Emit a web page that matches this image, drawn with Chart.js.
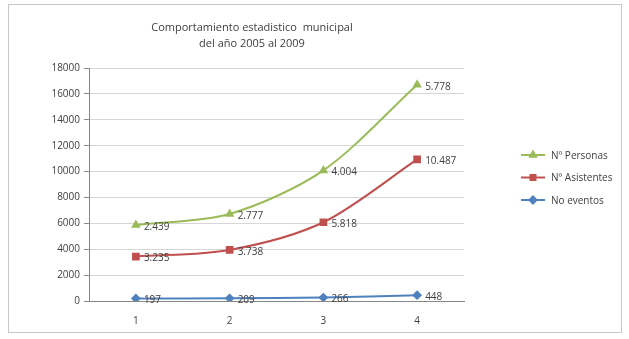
<!DOCTYPE html>
<html>
<head>
<meta charset="utf-8">
<script src="https://cdn.jsdelivr.net/npm/chart.js@4/dist/chart.umd.min.js"></script>
<style>
  html, body { margin: 0; padding: 0; background: #fff; }
  #wrap { width: 629px; height: 339px; position: relative; }
</style>
</head>
<body>
<div id="wrap"><canvas id="grafico" width="629" height="339"></canvas></div>
<script>
// Años 2005 a 2009 (categorías 1..4)
const categorias = ['1', '2', '3', '4'];
const noEventos = [197, 209, 266, 448];
const asistentes = [3235, 3738, 5818, 10487];
const personas = [2439, 2777, 4004, 5778];
const titulo = ['Comportamiento estadistico  municipal', 'del año 2005 al 2009'];

const verde = '#9bbb59', rojo = '#c0504d', azul = '#4f81bd';

// leyenda en el orden de arriba hacia abajo
const leyenda = [
    { text: 'Nº Personas', color: verde, style: 'triangle' },
    { text: 'Nº Asistentes', color: rojo, style: 'rect' },
    { text: 'No eventos', color: azul, style: 'rectRot' }
];

const fuente = '"Open Sans", "Liberation Sans", sans-serif';

// miles con punto: 10487 -> 10.487
const conPunto = v => String(v).replace(/\B(?=(\d{3})+(?!\d))/g, '.');

const marco = {
    id: 'marco',
    beforeDraw(chart) {
        const c = chart.ctx;
        c.save();
        c.fillStyle = '#fff';
        c.fillRect(0, 0, chart.width, chart.height);
        c.strokeStyle = '#c8c8c8';
        c.lineWidth = 1;
        c.strokeRect(8.5, 4.5, 613, 328);
        c.restore();
    },
    afterDraw(chart) {
        const c = chart.ctx;
        c.save();
        // título
        c.fillStyle = '#404040';
        c.font = '11px ' + fuente;
        c.textAlign = 'center';
        c.textBaseline = 'middle';
        c.fillText(titulo[0], 252, 28);
        c.fillText(titulo[1], 252, 44);

        // etiquetas de datos con el valor propio de cada serie
        c.font = '10px ' + fuente;
        c.textAlign = 'left';
        c.fillStyle = '#404040';
        chart.data.datasets.forEach((ds, i) => {
            chart.getDatasetMeta(i).data.forEach((pt, j) => {
                c.fillText(conPunto(ds.data[j]), pt.x + 8, pt.y + 2);
            });
        });

        // leyenda
        leyenda.forEach((it, i) => {
            const y = 155 + i * 22.5;
            c.strokeStyle = it.color;
            c.lineWidth = 2;
            c.beginPath();
            c.moveTo(521, y);
            c.lineTo(545, y);
            c.stroke();
            c.fillStyle = it.color;
            Chart.helpers.drawPoint(c, { pointStyle: it.style, radius: 3.5, borderWidth: 1 }, 533, y);
            c.fillStyle = '#404040';
            c.fillText(it.text, 551, y + 1);
        });
        c.restore();
    }
};

new Chart(document.getElementById('grafico'), {
    type: 'line',
    data: {
        labels: categorias,
        datasets: [
            {
                label: 'No eventos', data: noEventos,
                borderColor: azul, backgroundColor: azul,
                pointStyle: 'rectRot', pointRadius: 3.5, borderWidth: 2, fill: false
            },
            {
                label: 'Nº Asistentes', data: asistentes,
                borderColor: rojo, backgroundColor: rojo,
                pointStyle: 'rect', pointRadius: 4, borderWidth: 2, fill: false
            },
            {
                label: 'Nº Personas', data: personas,
                borderColor: verde, backgroundColor: verde,
                pointStyle: 'triangle', pointRadius: 3.5, borderWidth: 2, fill: false
            }
        ]
    },
    options: {
        responsive: false,
        animation: false,
        elements: { line: { tension: 0.3 } },
        layout: { padding: { left: 8, right: 165, top: 68, bottom: 14 } },
        scales: {
            x: {
                offset: true,
                grid: { display: false },
                border: { color: '#868686' },
                ticks: { color: '#404040', font: { size: 10, family: fuente }, padding: 6 },
                afterFit: s => { s.height = 24; }
            },
            y: {
                stacked: true,
                min: 0, max: 18000,
                ticks: {
                    stepSize: 2000, color: '#404040', font: { size: 10, family: fuente }, padding: 4,
                    callback: v => String(v)
                },
                grid: { color: '#d6d6d6', tickLength: 5, tickColor: '#868686' },
                border: { color: '#868686' },
                afterFit: s => { s.width = 81; }
            }
        },
        plugins: {
            legend: { display: false },
            tooltip: { enabled: false }
        }
    },
    plugins: [marco]
});
</script>
</body>
</html>
